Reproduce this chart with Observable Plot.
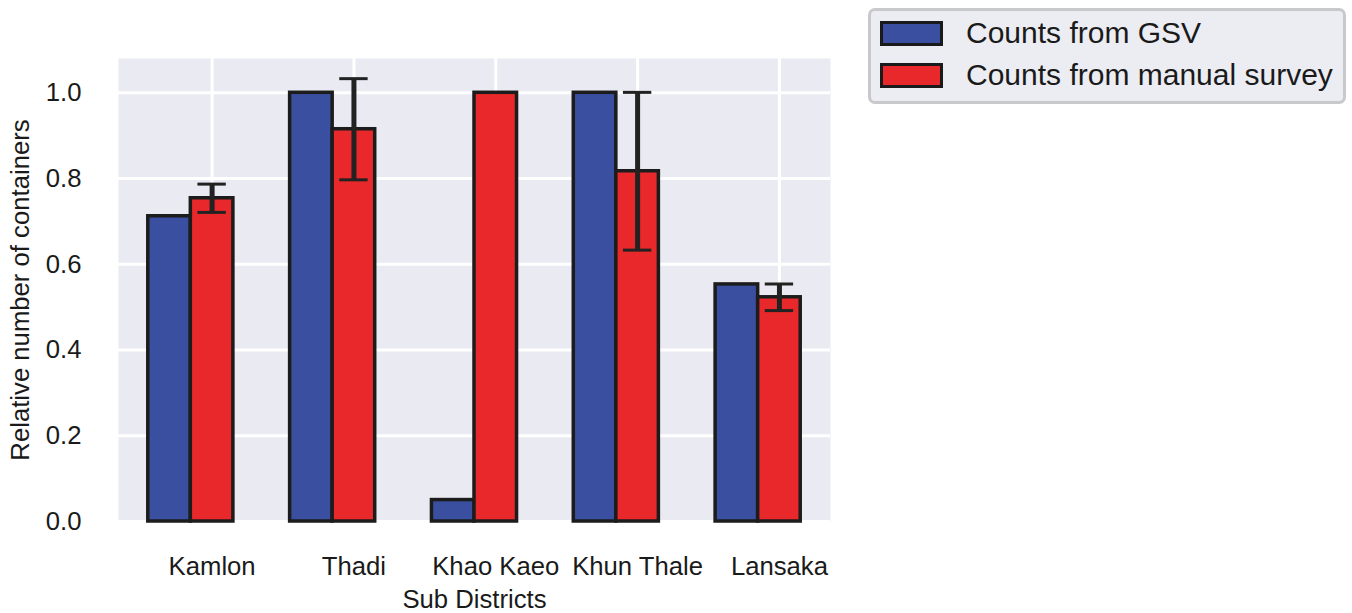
<!DOCTYPE html>
<html>
<head>
<meta charset="utf-8">
<script src="https://cdn.jsdelivr.net/npm/d3@7"></script>
<script src="https://cdn.jsdelivr.net/npm/@observablehq/plot@0.6"></script>
<style>
  html, body { margin: 0; padding: 0; background: #fff; }
  #wrap { position: relative; width: 1352px; height: 613px; font-family: "Liberation Sans", Arial, sans-serif; }
  #legend {
    position: absolute; left: 868px; top: 8px; width: 472px; height: 90px;
    background: #ececf3; border: 3px solid #c9c9cc; border-radius: 7px;
    box-sizing: content-box;
  }
  .row { position: absolute; left: 0; display: flex; align-items: center; font-size: 30px; line-height: 34px; color: #1a1a1a; }
  .sw { width: 57px; height: 19px; border: 3px solid #1a1a1a; margin-left: 9px; margin-right: 23px; }
</style>
</head>
<body>
<div id="wrap">
  <div id="chart"></div>
  <div id="legend"></div>
</div>
<script>
// Relative number of containers per sub district
const districts = ["Kamlon", "Thadi", "Khao Kaeo", "Khun Thale", "Lansaka"];
const gsvCounts = [0.712, 1.0, 0.05, 1.0, 0.553];
const manualCounts = [0.754, 0.915, 1.0, 0.817, 0.523];
const manualErr = [0.033, 0.118, 0, 0.184, 0.031];
const seriesNames = ["Counts from GSV", "Counts from manual survey"];
const seriesColors = ["#3a4f9f", "#e8282a"];
const yTicks = [0, 0.2, 0.4, 0.6, 0.8, 1.0];

const barW = 0.3;
const bars = [];
districts.forEach((d, i) => {
  bars.push({district: d, series: seriesNames[0], x1: i - barW, x2: i, value: gsvCounts[i]});
  bars.push({district: d, series: seriesNames[1], x1: i, x2: i + barW, value: manualCounts[i]});
});
const errs = districts.map((d, i) => ({
  x: i + barW / 2, lo: manualCounts[i] - manualErr[i], hi: manualCounts[i] + manualErr[i]
})).filter((e, i) => manualErr[i] > 0);

const capHalf = 0.1;
const fs = 25.7;

const chart = Plot.plot({
  width: 1352,
  height: 613,
  marginLeft: 118,
  marginRight: 522,
  marginTop: 58,
  marginBottom: 92,
  style: {fontFamily: "'Liberation Sans', Arial, sans-serif", fontSize: fs + "px", color: "#1a1a1a", background: "transparent"},
  x: {domain: [-0.51, 4.51]},
  y: {domain: [0, 1.08]},
  color: {domain: seriesNames, range: seriesColors},
  marks: [
    Plot.frame({fill: "#eaeaf2", stroke: null}),
    Plot.gridY(yTicks, {stroke: "#fff", strokeOpacity: 1, strokeWidth: 3}),
    Plot.gridX(districts.map((d, i) => i + barW / 2), {stroke: "#fff", strokeOpacity: 1, strokeWidth: 3}),
    Plot.axisY(yTicks, {tickSize: 0, tickPadding: 37, tickFormat: d3.format(".1f"), fontSize: fs,
      label: "Relative number of containers", labelAnchor: "center", labelArrow: "none", labelOffset: 108}),
    Plot.axisX(districts.map((d, i) => i + barW / 2), {tickSize: 0, tickPadding: 35, fontSize: fs,
      tickFormat: (d, i) => districts[i],
      label: "Sub Districts", labelAnchor: "center", labelArrow: "none", labelOffset: 86}),
    Plot.rectY(bars, {x1: "x1", x2: "x2", y1: 0, y2: "value", fill: "series", stroke: "#1c1c1c", strokeWidth: 3.5}),
    Plot.ruleX(errs, {x: "x", y1: "lo", y2: "hi", stroke: "#222", strokeWidth: 5}),
    Plot.ruleY(errs, {y: "hi", x1: d => d.x - capHalf, x2: d => d.x + capHalf, stroke: "#222", strokeWidth: 3}),
    Plot.ruleY(errs, {y: "lo", x1: d => d.x - capHalf, x2: d => d.x + capHalf, stroke: "#222", strokeWidth: 3})
  ]
});
document.getElementById("chart").appendChild(chart);

// Legend
const legend = document.getElementById("legend");
seriesNames.forEach((name, i) => {
  const row = document.createElement("div");
  row.className = "row";
  row.style.top = (i === 0 ? 5 : 47) + "px";
  row.innerHTML = `<span class="sw" style="background:${seriesColors[i]}"></span><span>${name}</span>`;
  legend.appendChild(row);
});
</script>
</body>
</html>
